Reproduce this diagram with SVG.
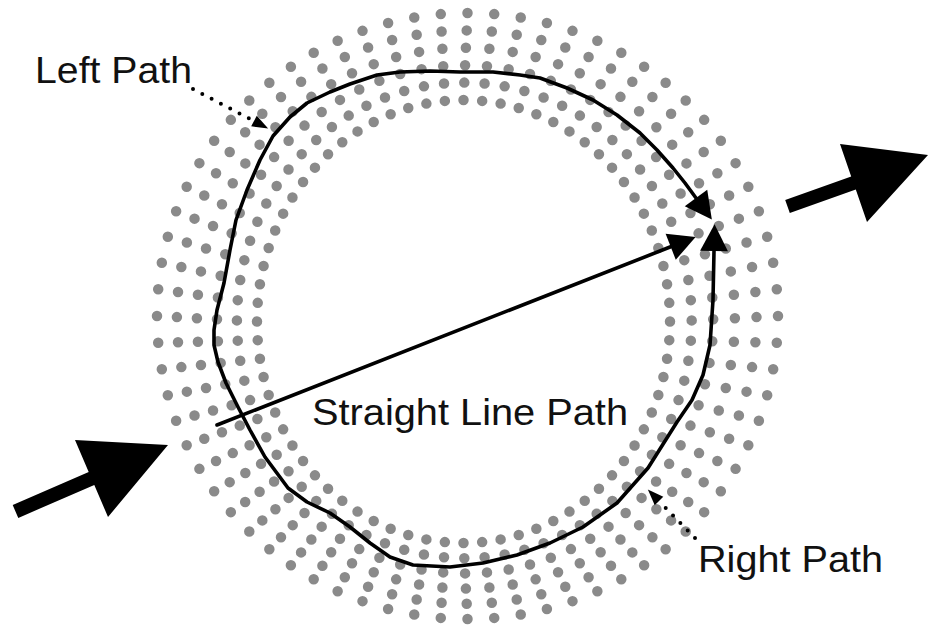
<svg xmlns="http://www.w3.org/2000/svg" width="929" height="631" viewBox="0 0 929 631">
<style>
.ring{fill:none;stroke:#8a8a8a;stroke-width:10.5;stroke-linecap:round;stroke-dasharray:0 1}
.path{fill:none;stroke:#000;stroke-width:3.6;stroke-linejoin:round;stroke-linecap:round}
.lead{fill:none;stroke:#000;stroke-width:4;stroke-linecap:round;stroke-dasharray:0 10.5}
.big{fill:#000}
.lbl{font-family:"Liberation Sans",Arial,sans-serif;font-size:37px;fill:#111}
</style>
<defs>
<marker id="ah" markerUnits="userSpaceOnUse" markerWidth="30" markerHeight="30" viewBox="0 -14 26 28" refX="0" refY="0" orient="auto-start-reverse">
<path d="M0,-13 L25,0 L0,13 Z" fill="#000"/>
</marker>
<marker id="sh" markerUnits="userSpaceOnUse" markerWidth="18" markerHeight="14" viewBox="0 -7 17 14" refX="0" refY="0" orient="auto">
<path d="M0,-6 L16,0 L0,6 Z" fill="#000"/>
</marker>
</defs>
<rect width="929" height="631" fill="#fff"/>
<g id="ring">
<path class="ring" pathLength="72" d="M463.5,100 A206.5,221.5 0 1 1 463.5,543 A206.5,221.5 0 1 1 463.5,100"/>
<path class="ring" pathLength="72" d="M464.3,82.6 A227.3,237.8 0 1 1 464.3,558.2 A227.3,237.8 0 1 1 464.3,82.6"/>
<path class="ring" pathLength="72" d="M465.1,65.2 A248.1,254.1 0 1 1 465.1,573.4 A248.1,254.1 0 1 1 465.1,65.2"/>
<path class="ring" pathLength="72" d="M465.9,47.8 A268.9,270.4 0 1 1 465.9,588.6 A268.9,270.4 0 1 1 465.9,47.8"/>
<path class="ring" pathLength="72" d="M466.7,30.4 A289.7,286.7 0 1 1 466.7,603.8 A289.7,286.7 0 1 1 466.7,30.4"/>
<path class="ring" pathLength="72" d="M467.5,13 A310.5,303 0 1 1 467.5,619 A310.5,303 0 1 1 467.5,13"/>
</g>
<g id="connectors">
<path id="curved-path" class="path" marker-start="url(#ah)" marker-end="url(#ah)" d="M714,251 L713,300 L710,345 L703,375 L692,400 L677,422 L648,468 L617,503 L583,527 L550,543 L517,555 L483,563 L450,567 L413,565 L390,557 L370,543 L350,527 L330,513 L307,502 L288,488 L265,457 L250,430 L238,407 L226,383 L218,362 L214,345 L214,330 L217,310 L224,283 L230,250 L236,220 L247,190 L260,160 L273,136 L290,117 L307,103 L330,92 L350,84 L377,75 L400,72 L430,71 L460,72 L493,72 L520,75 L540,78 L567,88 L593,100 L617,115 L640,133 L657,150 L673,168 L685,183 L696,198"/>
<path id="straight-path" class="path" marker-end="url(#ah)" d="M217,425 L670.7,246.8"/>
<path id="left-leader" class="lead" marker-end="url(#sh)" d="M193,89 L254,121"/>
<path id="right-leader" class="lead" marker-end="url(#sh)" d="M695,538 L659,501"/>
<polygon id="arrow-in" class="big" points="12.7,505.1 88.7,472.1 75,440 168,445 108,517 94.3,484.9 18.3,517.9"/>
<polygon id="arrow-out" class="big" points="785.2,199.9 851.2,176.4 840,144 928,155 867,222 855.8,189.6 789.8,213.1"/>
</g>
<g id="label-left"><text class="lbl" x="35" y="83" textLength="157" lengthAdjust="spacingAndGlyphs">Left Path</text></g>
<g id="label-straight"><text class="lbl" x="312" y="425" textLength="316" lengthAdjust="spacingAndGlyphs">Straight Line Path</text></g>
<g id="label-right"><text class="lbl" x="698" y="572" textLength="185" lengthAdjust="spacingAndGlyphs">Right Path</text></g>
</svg>
